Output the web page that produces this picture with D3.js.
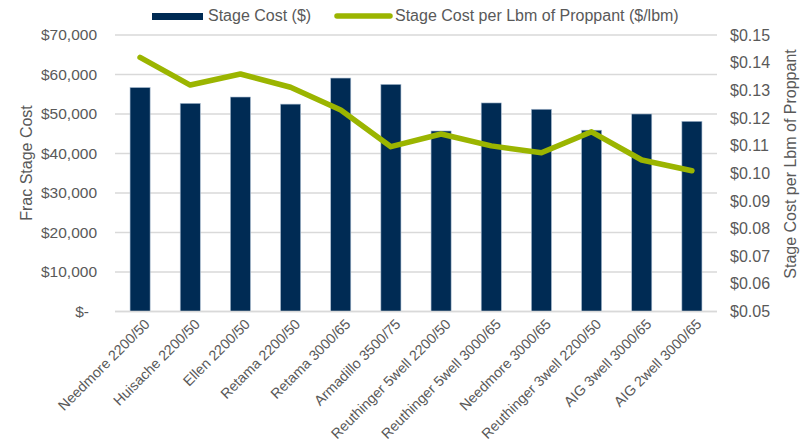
<!DOCTYPE html>
<html><head><meta charset="utf-8">
<script src="https://cdn.jsdelivr.net/npm/d3@7"></script>
<style>body{margin:0;background:#fff}svg{display:block;font-family:"Liberation Sans",Arial,sans-serif}</style>
</head><body>
<svg id="c" width="808" height="447"></svg>
<script>
const categories = ["Needmore 2200/50","Huisache 2200/50","Ellen 2200/50","Retama 2200/50","Retama 3000/65","Armadillo 3500/75","Reuthinger 5well 2200/50","Reuthinger 5well 3000/65","Needmore 3000/65","Reuthinger 3well 2200/50","AIG 3well 3000/65","AIG 2well 3000/65"];
const stageCost = [56700, 52700, 54300, 52500, 59100, 57500, 45700, 52800, 51200, 45900, 50000, 48150];
const costPerLbm = [0.1419, 0.1319, 0.1359, 0.1311, 0.1229, 0.1096, 0.1142, 0.1099, 0.1074, 0.1150, 0.1048, 0.1009];
const leftTicks = [0,10000,20000,30000,40000,50000,60000,70000];
const rightTicks = [0.05,0.06,0.07,0.08,0.09,0.10,0.11,0.12,0.13,0.14,0.15];

const svg = d3.select("#c");
const L=115, R=717, T=35, B=311.5;
const txt="#595959";
const FF="Liberation Sans, Arial, sans-serif";
const x = d3.scaleBand().domain(categories).range([L,R]).paddingInner(0.6).paddingOuter(0.3);
const yL = d3.scaleLinear().domain([0,70000]).range([B,T]);
const yR = d3.scaleLinear().domain([0.05,0.15]).range([B,T]);

// gridlines
svg.append("g").selectAll("line").data(leftTicks).join("line")
  .attr("x1",L).attr("x2",R).attr("y1",d=>yL(d)).attr("y2",d=>yL(d))
  .attr("stroke","#d9d9d9").attr("stroke-width",1.5);

// left axis labels
const fmt = d => d===0 ? "$-" : "$"+d3.format(",")(d);
const gl = svg.append("g").attr("transform",`translate(${L},0)`)
  .call(d3.axisLeft(yL).tickValues(leftTicks).tickFormat(fmt).tickSize(0).tickPadding(18));
gl.select(".domain").remove();
gl.selectAll("text").attr("font-size",15.5).attr("fill",txt).attr("font-family",FF);
gl.selectAll("text").filter(d=>d===0).attr("dx",-8);

const gr = svg.append("g").attr("transform",`translate(${R},0)`)
  .call(d3.axisRight(yR).tickValues(rightTicks).tickFormat(d=>"$"+d.toFixed(2)).tickSize(0).tickPadding(13));
gr.select(".domain").remove();
gr.selectAll("text").attr("font-size",16).attr("fill",txt).attr("font-family",FF);

// bars
svg.append("g").selectAll("rect").data(stageCost).join("rect")
  .attr("x",(d,i)=>x(categories[i])).attr("width",x.bandwidth())
  .attr("y",d=>yL(d)).attr("height",d=>yL(0)-yL(d))
  .attr("fill","#002b54").attr("stroke","#a9bcd0").attr("stroke-width",0.6);

// baseline
svg.append("line").attr("x1",L).attr("x2",R).attr("y1",B).attr("y2",B).attr("stroke","#d9d9d9").attr("stroke-width",1.5);

// line
const line = d3.line().x((d,i)=>x(categories[i])+x.bandwidth()/2).y(d=>yR(d));
svg.append("path").datum(costPerLbm).attr("d",line).attr("fill","none")
  .attr("stroke","#9bb500").attr("stroke-width",5.5).attr("stroke-linecap","round").attr("stroke-linejoin","round");

// x labels
const gx = svg.append("g").attr("transform",`translate(0,${B})`)
  .call(d3.axisBottom(x).tickSize(0).tickPadding(0));
gx.select(".domain").remove();
gx.selectAll("text").attr("font-size",14.3).attr("fill",txt).attr("font-family",FF)
  .attr("text-anchor","end").attr("transform","translate(7,10) rotate(-45)").attr("dy","0.35em");

// axis titles
svg.append("text").attr("transform","translate(32,163) rotate(-90)").attr("text-anchor","middle")
  .attr("font-size",16).attr("fill",txt).text("Frac Stage Cost");
svg.append("text").attr("transform","translate(796,164) rotate(-90)").attr("text-anchor","middle")
  .attr("font-size",16).attr("fill",txt).text("Stage Cost per Lbm of Proppant");

// legend
const lg = svg.append("g");
lg.append("rect").attr("x",152).attr("y",13).attr("width",51).attr("height",7).attr("fill","#002b54");
lg.append("text").attr("x",208).attr("y",21).attr("font-size",16).attr("fill",txt).text("Stage Cost ($)");
lg.append("line").attr("x1",337).attr("x2",390).attr("y1",16).attr("y2",16).attr("stroke","#9bb500").attr("stroke-width",5.5).attr("stroke-linecap","round");
lg.append("text").attr("x",395).attr("y",21).attr("font-size",16).attr("fill",txt).text("Stage Cost per Lbm of Proppant ($/lbm)");
</script>
</body></html>
